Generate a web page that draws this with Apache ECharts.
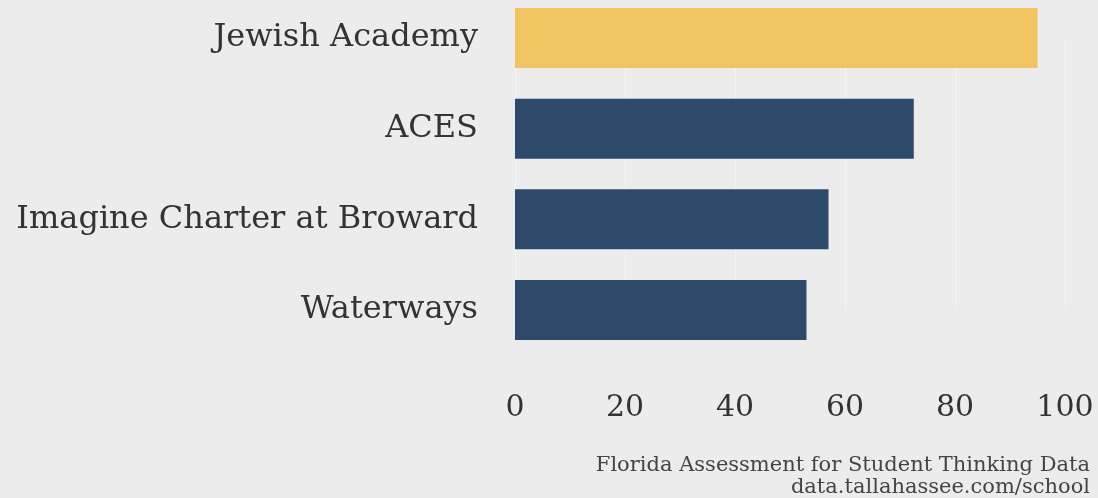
<!DOCTYPE html>
<html>
<head>
<meta charset="utf-8">
<script src="https://cdn.jsdelivr.net/npm/echarts@6/dist/echarts.min.js"></script>
<style>
  html, body { margin: 0; padding: 0; background: #ececec; }
  #main { width: 1098px; height: 498px; }
</style>
</head>
<body>
<div id="main"></div>
<script>
// schools, top to bottom
const schools = ['Jewish Academy', 'ACES', 'Imagine Charter at Broward', 'Waterways'];
const scores = [95, 72.5, 57, 53];
const barColors = ['#f1c462', '#2e4a6b', '#2e4a6b', '#2e4a6b'];
const sourceLines = ['Florida Assessment for Student Thinking Data', 'data.tallahassee.com/school'];

const serif = '"DejaVu Serif", serif';

const chart = echarts.init(document.getElementById('main'));

// category axis without boundary gap: grid top/bottom sit on the first/last bar centres
const option = {
  backgroundColor: '#ececec',
  animation: false,
  grid: { left: 515, right: 33, top: 38, bottom: 188, containLabel: false },
  xAxis: {
    type: 'value',
    min: 0,
    max: 100,
    interval: 20,
    axisLine: { show: false },
    axisTick: { show: false },
    splitLine: { show: true, lineStyle: { color: 'rgba(255,255,255,0.45)', width: 1 } },
    axisLabel: { color: '#333', fontFamily: serif, fontSize: 30, margin: 83 }
  },
  yAxis: {
    type: 'category',
    inverse: true,
    boundaryGap: false,
    data: schools,
    axisLine: { show: false },
    axisTick: { show: false },
    axisLabel: { color: '#333', fontFamily: serif, fontSize: 32, margin: 37 }
  },
  series: [{
    type: 'bar',
    barWidth: 60,
    data: scores.map((v, i) => ({ value: v, itemStyle: { color: barColors[i] } }))
  }],
  graphic: sourceLines.map((t, i) => ({
    type: 'text',
    right: 8,
    top: 455 + i * 22,
    style: { text: t, fill: '#444', font: '21px ' + serif, textAlign: 'right' }
  }))
};

chart.setOption(option);
</script>
</body>
</html>
